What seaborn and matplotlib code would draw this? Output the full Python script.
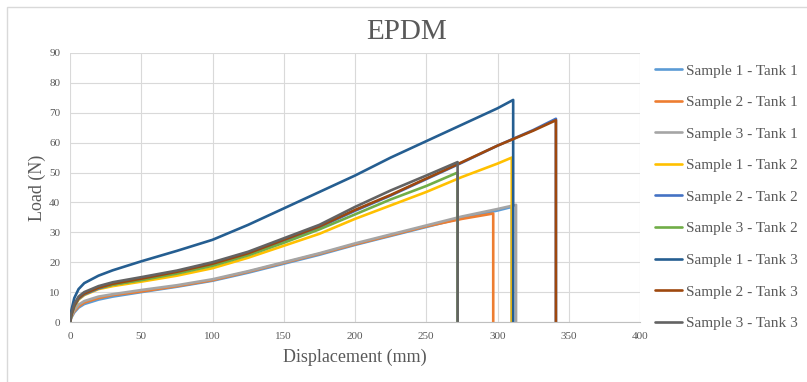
import matplotlib
matplotlib.use("Agg")
import matplotlib.pyplot as plt
from matplotlib.patches import Rectangle
import seaborn as sns
import pandas as pd

# ---- tensile test curves: displacement (mm) vs load (N) ----
s1_t1_disp = [0, 1, 3, 6, 10, 20, 30, 50, 75, 100, 125, 150, 175, 200, 225, 250, 275, 300, 310, 310]
s1_t1_load = [0, 1.5, 3.2, 4.8, 6, 7.5, 8.5, 10, 11.8, 13.8, 16.5, 19.5, 22.5, 25.8, 28.8, 31.8, 34.8, 37.3, 38.5, 0]

s2_t1_disp = [0, 1, 3, 6, 10, 20, 30, 50, 75, 100, 125, 150, 175, 200, 225, 250, 275, 297, 297]
s2_t1_load = [0, 1.8, 3.6, 5.2, 6.5, 8, 9, 10.2, 12, 14, 16.8, 19.8, 22.8, 26, 29, 32, 34.5, 36.3, 0]

s3_t1_disp = [0, 1, 3, 6, 10, 20, 30, 50, 75, 100, 125, 150, 175, 200, 225, 250, 275, 300, 313, 313]
s3_t1_load = [0, 2, 4, 5.8, 7, 8.5, 9.3, 10.7, 12.3, 14.3, 17, 20, 23, 26.3, 29.3, 32.3, 35.3, 37.8, 39.2, 0]

s1_t2_disp = [0, 1, 3, 6, 10, 20, 30, 50, 75, 100, 125, 150, 175, 200, 225, 250, 275, 300, 310, 310]
s1_t2_load = [0, 2.5, 5, 7.5, 9, 11, 12, 13.5, 15.5, 18, 21.5, 25.5, 29.5, 34.5, 39, 43.5, 48.5, 53, 55, 0]

s2_t2_disp = [0, 1, 3, 6, 10, 20, 30, 50, 75, 100, 125, 150, 175, 200, 225, 250, 275, 300, 325, 341, 341]
s2_t2_load = [0, 2.3, 5.2, 7.7, 9.2, 11.2, 12.5, 14.2, 16.5, 19.2, 22.7, 27.2, 31.7, 37.2, 42.3, 47.8, 53.3, 59, 64.2, 68, 0]

s3_t2_disp = [0, 1, 3, 6, 10, 20, 30, 50, 75, 100, 125, 150, 175, 200, 225, 250, 272, 272]
s3_t2_load = [0, 2.5, 5.5, 8, 9.5, 11.5, 12.5, 14, 16.2, 18.8, 22.3, 26.5, 31, 36, 41, 45.5, 50, 0]

s1_t3_disp = [0, 1, 3, 6, 10, 20, 30, 50, 75, 100, 125, 150, 175, 200, 225, 250, 275, 300, 311, 311]
s1_t3_load = [0, 4, 8, 11, 13, 15.5, 17.3, 20.3, 23.8, 27.5, 32.5, 38, 43.5, 49, 55, 60.5, 66, 71.5, 74.3, 0]

s2_t3_disp = [0, 1, 3, 6, 10, 20, 30, 50, 75, 100, 125, 150, 175, 200, 225, 250, 272, 300, 325, 341, 341]
s2_t3_load = [0, 2.5, 5.5, 8, 9.5, 11.5, 12.8, 14.5, 16.8, 19.5, 23, 27.5, 32, 37.5, 42.5, 48, 52.8, 59, 64, 67.5, 0]

s3_t3_disp = [0, 1, 3, 6, 10, 20, 30, 50, 75, 100, 125, 150, 175, 200, 225, 250, 272, 272]
s3_t3_load = [0, 3, 6, 8.5, 10, 12, 13.3, 15, 17.2, 20, 23.5, 28, 32.5, 38.5, 44, 49, 53.5, 0]

series_names = [
    "Sample 1 - Tank 1", "Sample 2 - Tank 1", "Sample 3 - Tank 1",
    "Sample 1 - Tank 2", "Sample 2 - Tank 2", "Sample 3 - Tank 2",
    "Sample 1 - Tank 3", "Sample 2 - Tank 3", "Sample 3 - Tank 3",
]
series_data = [
    (s1_t1_disp, s1_t1_load), (s2_t1_disp, s2_t1_load), (s3_t1_disp, s3_t1_load),
    (s1_t2_disp, s1_t2_load), (s2_t2_disp, s2_t2_load), (s3_t2_disp, s3_t2_load),
    (s1_t3_disp, s1_t3_load), (s2_t3_disp, s2_t3_load), (s3_t3_disp, s3_t3_load),
]
colors = ["#5B9BD5", "#ED7D31", "#A5A5A5", "#FFC000", "#4472C4",
          "#70AD47", "#255E91", "#9E480E", "#636363"]

x_ticks = [0, 50, 100, 150, 200, 250, 300, 350, 400]
y_ticks = [0, 10, 20, 30, 40, 50, 60, 70, 80, 90]

rows = []
for name, (d, l) in zip(series_names, series_data):
    for i, (xv, yv) in enumerate(zip(d, l)):
        rows.append({"Displacement": xv, "Load": yv, "Series": name, "order": i})
df = pd.DataFrame(rows)

sns.set_style("white")
plt.rcParams["font.family"] = ["Liberation Serif", "DejaVu Serif"]
text_color = "#595959"

fig = plt.figure(figsize=(8.07, 3.82), dpi=100)
ax = fig.add_axes([70 / 807, 1 - 322 / 382, 570 / 807, 269 / 382])

sns.lineplot(data=df, x="Displacement", y="Load", hue="Series",
             hue_order=series_names, palette=colors, sort=False,
             estimator=None, linewidth=1.9, ax=ax, legend=True)

ax.set_xlim(0, 400)
ax.set_ylim(0, 90)
ax.set_xticks(x_ticks)
ax.set_yticks(y_ticks)
ax.grid(True, color="#d9d9d9", linewidth=0.8)
ax.set_axisbelow(True)
for side in ["top", "right", "left"]:
    ax.spines[side].set_visible(False)
ax.spines["bottom"].set_color("#bfbfbf")
ax.spines["bottom"].set_linewidth(0.8)
ax.tick_params(length=0, labelsize=8, colors=text_color, pad=7)

ax.set_xlabel("Displacement (mm)", fontsize=13, color=text_color, labelpad=6)
ax.set_ylabel("Load (N)", fontsize=13, color=text_color, labelpad=2)
fig.text(0.5035, 1 - 32 / 382, "EPDM", ha="center", va="center",
         fontsize=21, color=text_color)

handles, labels = ax.get_legend_handles_labels()
ax.legend(handles, labels, loc="center left",
          bbox_to_anchor=(655 / 807, 1 - 197 / 382),
          bbox_transform=fig.transFigure, frameon=False, fontsize=11,
          handlelength=1.75, handletextpad=0.25, labelspacing=1.17,
          borderpad=0, borderaxespad=0, labelcolor=text_color)

# thin frame around the chart area
fig.patches.append(Rectangle((7 / 807, -0.02), 1.0, 1 - 7 / 382 + 0.02,
                             transform=fig.transFigure, fill=False,
                             edgecolor="#d9d9d9", linewidth=1))

fig.savefig("out.png", dpi=100, facecolor="white")
